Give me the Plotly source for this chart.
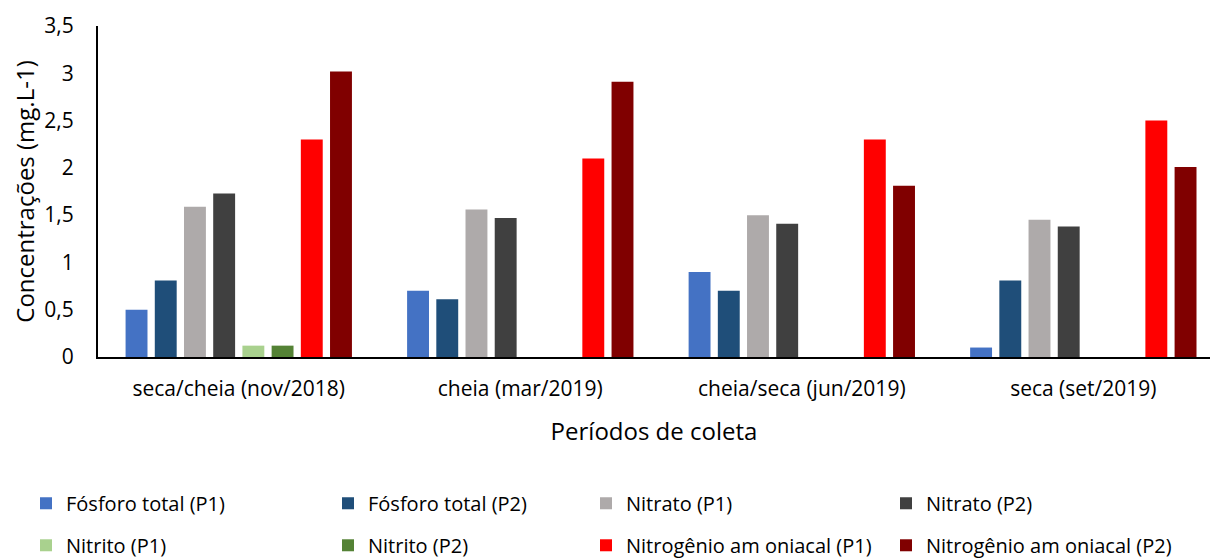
import plotly.graph_objects as go

categories = ["seca/cheia (nov/2018)", "cheia (mar/2019)", "cheia/seca (jun/2019)", "seca (set/2019)"]

fosforo_p1 = [0.50, 0.70, 0.90, 0.10]
fosforo_p2 = [0.81, 0.61, 0.70, 0.81]
nitrato_p1 = [1.59, 1.56, 1.50, 1.45]
nitrato_p2 = [1.73, 1.47, 1.41, 1.38]
nitrito_p1 = [0.12, None, None, None]
nitrito_p2 = [0.12, None, None, None]
amoniacal_p1 = [2.30, 2.10, 2.30, 2.50]
amoniacal_p2 = [3.02, 2.91, 1.81, 2.01]

series = [
    ("Fósforo total (P1)", fosforo_p1, "#4472C4", "legend"),
    ("Fósforo total (P2)", fosforo_p2, "#1F4E79", "legend2"),
    ("Nitrato (P1)", nitrato_p1, "#AEAAAA", "legend3"),
    ("Nitrato (P2)", nitrato_p2, "#404040", "legend4"),
    ("Nitrito (P1)", nitrito_p1, "#A9D18E", "legend"),
    ("Nitrito (P2)", nitrito_p2, "#548235", "legend2"),
    ("Nitrogênio am oniacal (P1)", amoniacal_p1, "#FF0000", "legend3"),
    ("Nitrogênio am oniacal (P2)", amoniacal_p2, "#800000", "legend4"),
]

FONT = "Open Sans"
fig = go.Figure()
for name, vals, color, lg in series:
    fig.add_trace(go.Bar(
        x=categories, y=vals, name=name,
        marker=dict(color=color, line=dict(width=0)),
        legend=lg, legendgroup=name,
    ))

legend_common = dict(
    orientation="v", yanchor="top", xanchor="left",
    font=dict(family=FONT, size=20, color="#000000"),
    bgcolor="rgba(0,0,0,0)", tracegroupgap=13,
    itemwidth=30,
)
def lx(px):
    return (px - 98) / (1210 - 98)

LY = -0.383
fig.update_layout(
    width=1213, height=551,
    margin=dict(l=90, r=11, t=18, b=202, autoexpand=False),
    paper_bgcolor="white", plot_bgcolor="white",
    barmode="group", bargap=0.17, bargroupgap=0.25,
    separators=",.",
    font=dict(family=FONT, color="#000000"),
    showlegend=True,
    legend=dict(**legend_common, x=lx(26), y=LY),
    legend2=dict(**legend_common, x=lx(328), y=LY),
    legend3=dict(**legend_common, x=lx(586), y=LY),
    legend4=dict(**legend_common, x=lx(886), y=LY),
    xaxis=dict(
        range=[-0.5, 3.45], automargin=False,
        showline=True, linecolor="#000000", linewidth=2,
        ticks="", showgrid=False, ticklabelstandoff=12,
        tickfont=dict(family=FONT, size=21, color="#000000"),
        title=dict(text="Períodos de coleta", font=dict(family=FONT, size=24, color="#000000"), standoff=22),
    ),
    yaxis=dict(
        range=[0, 3.5], dtick=0.5, automargin=False,
        showline=True, linecolor="#000000", linewidth=2,
        ticks="", showgrid=False, zeroline=False, ticklabelstandoff=18,
        tickfont=dict(family=FONT, size=21, color="#000000"),
        title=dict(text="Concentrações (mg.L-1)", font=dict(family=FONT, size=24, color="#000000"), standoff=15),
    ),
)

fig.write_html("out.html")
